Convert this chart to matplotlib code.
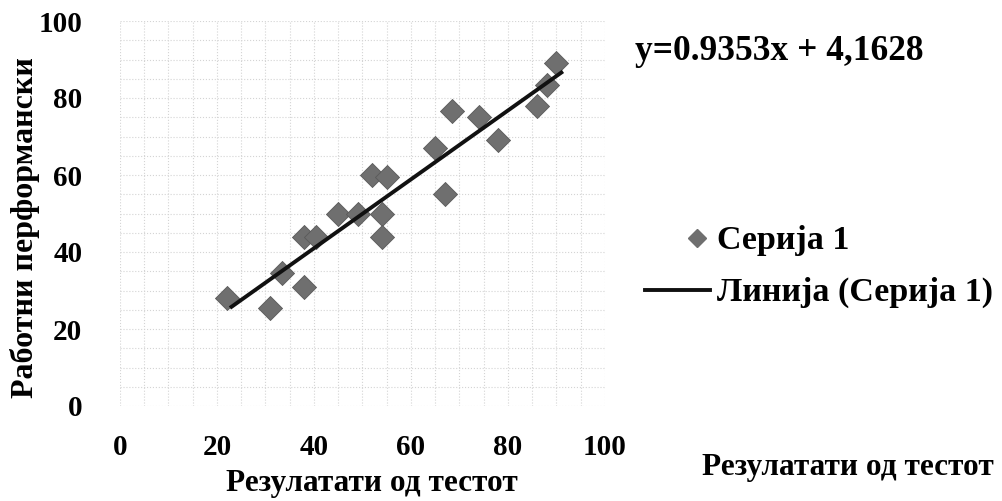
"""Scatter of test scores vs work performance with a linear trend line."""

import matplotlib

matplotlib.use("Agg")
import matplotlib.pyplot as plt
import numpy as np
from matplotlib.lines import Line2D

# data
test_scores = [22, 31, 33.5, 38, 38, 40.5, 45, 49, 52, 55, 54, 54, 65, 67, 68.5, 74, 78, 86, 88, 90]
performance = [28, 25.5, 34.5, 31, 44, 44, 50, 50, 60, 59.5, 50, 44, 67, 55, 76.5, 75, 69, 78, 83.5, 89]
x_ticks = [0, 20, 40, 60, 80, 100]
y_ticks = [0, 20, 40, 60, 80, 100]
equation = "y=0.9353x + 4,1628"
x_title = "Резулатати од тестот"
y_title = "Работни перформански"
legend_labels = ["Серија 1", "Линија (Серија 1)"]

MARKER = "#6f6f6f"
LINE = "#111111"
W, H = 1003, 501

plt.rcParams["font.family"] = ["Liberation Serif", "DejaVu Serif"]
plt.rcParams["font.weight"] = "bold"

fig = plt.figure(figsize=(W / 100, H / 100), dpi=100)
ax = fig.add_axes([120 / W, 1 - 406 / H, 485 / W, 385 / H])

x = np.array(test_scores)
y = np.array(performance)
ax.scatter(x, y, marker="D", s=150, color=MARKER, edgecolor="#5a5a5a", linewidth=0.6, zorder=3)

slope, intercept = np.polyfit(x, y, 1)
xs = np.array([x.min() + 1, x.max() + 1])
ax.plot(xs, slope * xs + intercept, color=LINE, lw=2.8, zorder=4)

ax.set_xlim(0, 100)
ax.set_ylim(0, 100)
ax.set_xticks(np.arange(0, 101, 5), minor=True)
ax.set_yticks(np.arange(0, 101, 5), minor=True)
ax.set_xticks(x_ticks)
ax.set_yticks(y_ticks)
ax.set_xticklabels(x_ticks, fontsize=21)
ax.set_yticklabels(y_ticks, fontsize=21)
ax.tick_params(which="both", length=0)
ax.tick_params(axis="x", pad=20)
ax.tick_params(axis="y", pad=27)
ax.grid(which="both", color="#d4d4d4", linestyle=":", linewidth=0.8)
for s in ax.spines.values():
    s.set_visible(False)

fig.text(25 / W, 1 - 228 / H, y_title, rotation=90, fontsize=23, ha="center", va="center")
fig.text(372 / W, 1 - 484 / H, x_title, fontsize=22.5, ha="center", va="center")
fig.text(848 / W, 1 - 468 / H, x_title, fontsize=22.5, ha="center", va="center")
fig.text(635 / W, 1 - 52 / H, equation, fontsize=25.5, ha="left", va="center")

# legend, laid out by hand to match the reference
fig.add_artist(Line2D([697 / W], [1 - 238 / H], marker="D", linestyle="none", color=MARKER,
                      markersize=9, transform=fig.transFigure))
fig.add_artist(Line2D([645 / W, 710 / W], [1 - 290 / H] * 2, color=LINE, lw=2.8,
                      transform=fig.transFigure))
fig.text(717 / W, 1 - 240 / H, legend_labels[0], fontsize=24.5, ha="left", va="center")
fig.text(717 / W, 1 - 292 / H, legend_labels[1], fontsize=24.5, ha="left", va="center")

fig.savefig("out.png", dpi=100)
